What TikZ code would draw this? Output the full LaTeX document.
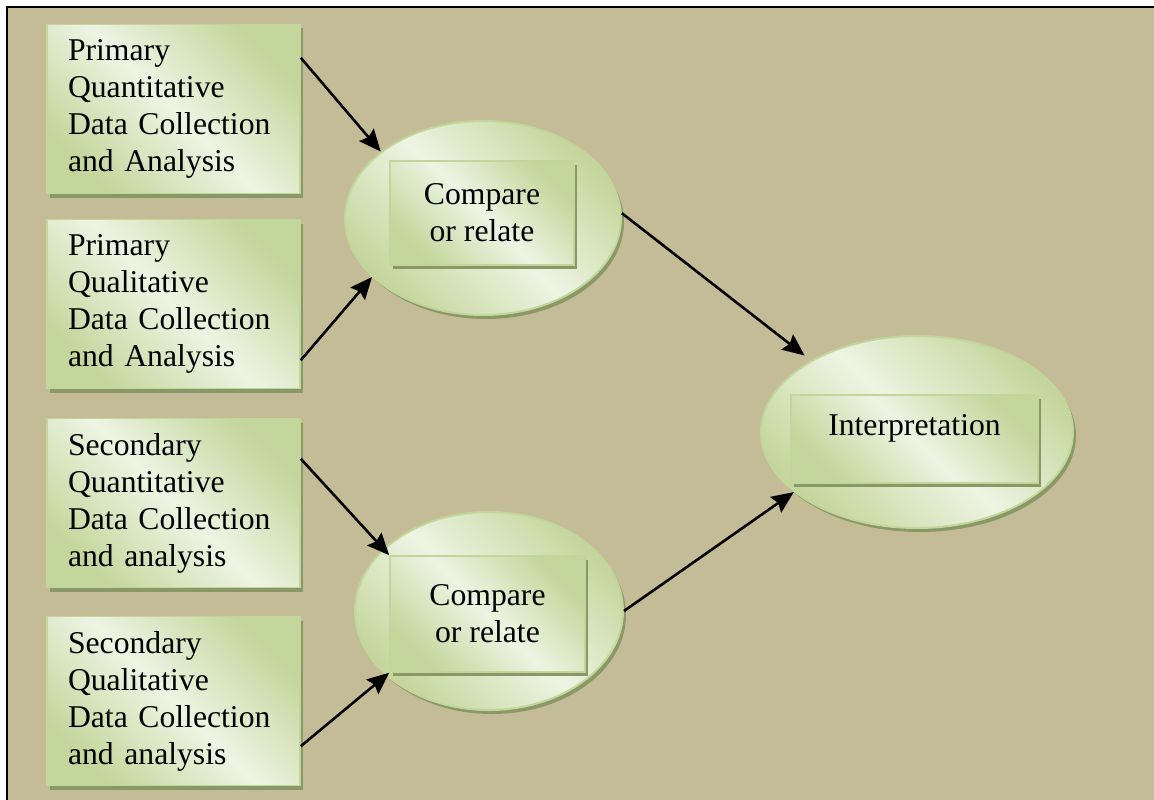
\documentclass[tikz,border=0pt]{standalone}
\usepackage{fontspec}
\setmainfont{Liberation Serif}
\usetikzlibrary{arrows.meta,shapes.geometric,shadows}
\definecolor{tanbg}{HTML}{C4BC96}
\definecolor{gdark}{HTML}{C3D69B}
\definecolor{glight}{HTML}{EEF4E3}
\definecolor{gedge}{HTML}{C2D69B}
\definecolor{gshadow}{HTML}{8A9868}
\tikzset{
  x=1pt, y=-1pt,
  greenfill/.style={top color=gdark, bottom color=gdark, middle color=glight, shading angle=-45},
  flatshadow/.style={general shadow={shadow xshift=3pt, shadow yshift=-4pt, fill=gshadow}},
  bigtext/.style={font=\fontsize{31.7}{37}\selectfont},
  sourcebox/.style={rectangle, greenfill, draw=gedge, line width=1.5pt, flatshadow,
    text width=211pt, inner xsep=21pt, inner ysep=0pt, minimum height=169pt,
    align=left, bigtext},
  hub/.style={ellipse, greenfill, draw=gedge, line width=2pt, flatshadow, inner sep=0pt},
  labelbox/.style={rectangle, greenfill, draw=gedge, line width=1.5pt, flatshadow,
    inner sep=0pt, align=center, bigtext},
  flow/.style={-{Stealth[length=22pt, width=19pt, inset=3pt]}, line width=2.6pt, black},
}
\begin{document}
\begin{tikzpicture}
\useasboundingbox (0,0) rectangle (1154,800);
% page background and frame
\fill[white] (0,0) rectangle (1154,800);
\fill[tanbg] (7,7) rectangle (1154,800);
\draw[line width=2pt] (7,800) -- (7,7) -- (1154,7);

% data collection boxes
\node[sourcebox] (b1) at (173.5,109) {Primary\\Quantitative\\Data Collection\\and Analysis};
\node[sourcebox] (b2) at (173.5,304) {Primary\\Qualitative\\Data Collection\\and Analysis};
\node[sourcebox] (b3) at (173.5,503) {Secondary\\Quantitative\\Data Collection\\and analysis};
\node[sourcebox] (b4) at (173.5,701) {Secondary\\Qualitative\\Data Collection\\and analysis};

% comparison hubs
\node[hub, minimum width=276pt, minimum height=194pt] (e1) at (483,218) {};
\node[labelbox, minimum width=184pt, minimum height=104pt] (c1) at (482,213) {Compare\\or relate};
\node[hub, minimum width=268pt, minimum height=198pt] (e2) at (489,611) {};
\node[labelbox, minimum width=195pt, minimum height=116pt] (c2) at (487.5,614) {Compare\\or relate};

% interpretation hub
\node[hub, minimum width=312pt, minimum height=192pt] (I) at (917,432) {};
\node[labelbox, minimum width=247pt, minimum height=88pt, text depth=28pt] (ci) at (914.5,439) {Interpretation};

% connectors
\draw[flow] ([yshift=-34pt]b1.north east) -- (e1.147);
\draw[flow] ([yshift=29pt]b2.south east) -- (e1.208);
\draw[flow] ([yshift=-41pt]b3.north east) -- (c2.north west);
\draw[flow] ([yshift=40pt]b4.south east) -- (c2.south west);
\draw[flow, shorten >=8pt] (e1.2) -- (I.146);
\draw[flow] (e2.east) -- (I.206);
\end{tikzpicture}
\end{document}
